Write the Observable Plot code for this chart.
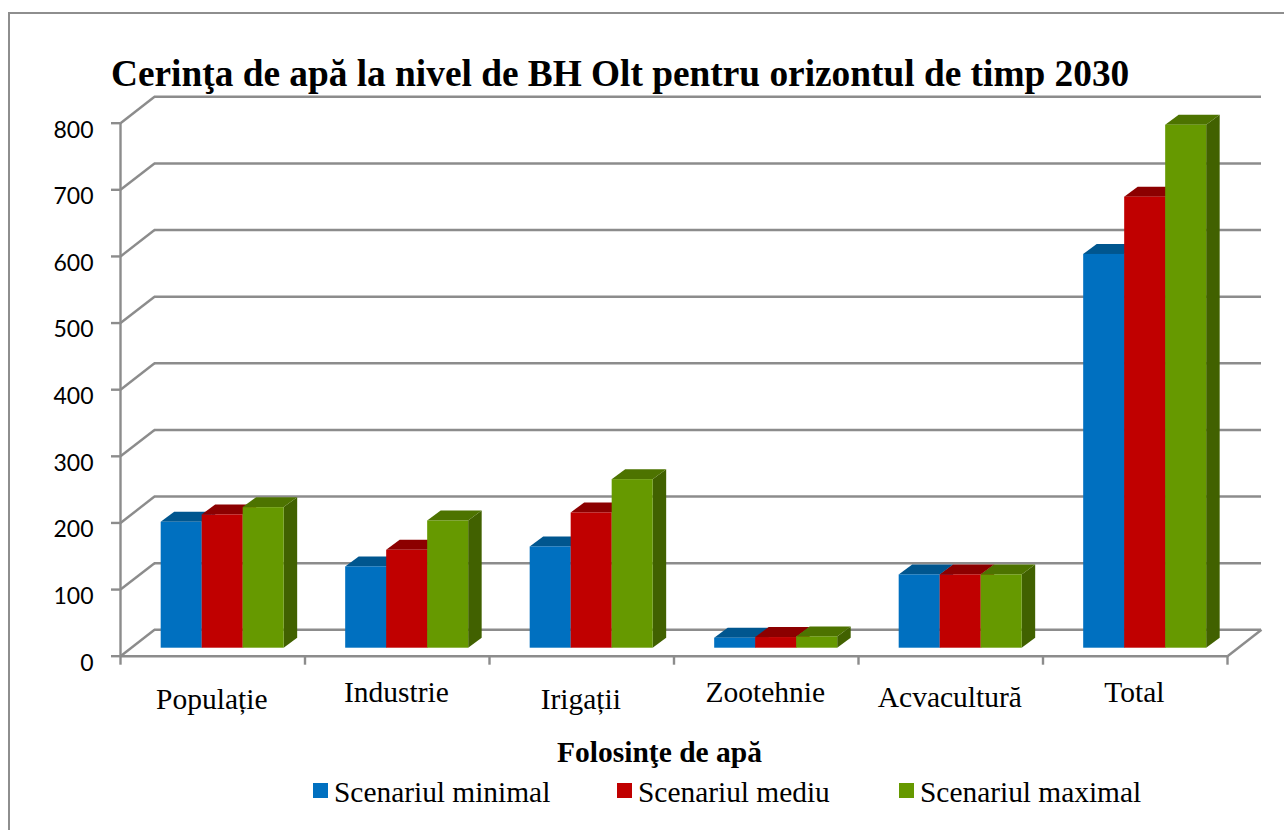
<!DOCTYPE html>
<html lang="ro">
<head>
<meta charset="utf-8">
<title>Cerinţa de apă la nivel de BH Olt</title>
<script src="https://cdn.jsdelivr.net/npm/d3@7"></script>
<script src="https://cdn.jsdelivr.net/npm/@observablehq/plot@0.6"></script>
<style>
  html, body { margin: 0; padding: 0; background: #fff; }
  #chart { position: relative; width: 1284px; height: 830px; overflow: hidden; font-family: "Liberation Serif", serif; color: #000; }
  #frame { position: absolute; left: 8px; top: 12px; right: -10px; bottom: -10px; border: 2px solid #8e8e8e; }
  #title { position: relative; height: 90px; }
  #title span { position: absolute; left: 111px; top: 48px; font-size: 37.35px; font-weight: bold; line-height: 52px; white-space: nowrap; }
  #plot { position: relative; height: 625px; }
  #plot svg { display: block; background: transparent; overflow: visible; }
  #xlabel { position: absolute; left: 0; top: 736px; width: 1319px; text-align: center; font-size: 29.5px; font-weight: bold; line-height: 32px; }
  .item { position: absolute; top: 775px; font-size: 29.4px; line-height: 34px; white-space: nowrap; }
  .item i { position: absolute; left: -21px; top: 8px; width: 15px; height: 15px; }
</style>
</head>
<body>
<div id="chart">
  <div id="frame"></div>
  <div id="title"><span>Cerinţa de apă la nivel de BH Olt pentru orizontul de timp 2030</span></div>
  <div id="plot"></div>
  <div id="xlabel">Folosinţe de apă</div>
  <div class="item" style="left:334px"><i style="background:#0070C0"></i>Scenariul minimal</div>
  <div class="item" style="left:638px"><i style="background:#C00000"></i>Scenariul mediu</div>
  <div class="item" style="left:920px"><i style="background:#669900"></i>Scenariul maximal</div>
</div>
<script>
const categories = ["Populație", "Industrie", "Irigații", "Zootehnie", "Acvacultură", "Total"];
const minimal = [189, 122, 152, 15, 110, 591];
const mediu = [200, 147, 203, 16, 110, 677];
const maximal = [211, 191, 253, 17, 110, 785];
const yTicks = [0, 100, 200, 300, 400, 500, 600, 700, 800];

const series = [
  { values: minimal, front: "#0070C0", top: "#00568F" },
  { values: mediu, front: "#C00000", top: "#8C0000" },
  { values: maximal, front: "#669900", top: "#4D7300", side: "#416100" }
];

// Oblique projection, in data units
const wallX = 34 / 184.5, wallY = 39.6;
const barX = 0.2205, barW = 0.2222, barBase = 12;
const depthX = 0.0732, depthY = 15;
const labelShift = [7, 0, 7, 0, 5, 0];
const gray = "#8c8c8c";
const lineW = 2.4;

const barMarks = series.flatMap((s, k) => {
  const rows = s.values.map((v, i) => {
    const x1 = i + barX + k * barW;
    return { x1, x2: x1 + barW, b: barBase, t: barBase + v, i };
  });
  const side = rows.flatMap(r => [
    { id: r.i, x: r.x2, y1: r.b, y2: r.t },
    { id: r.i, x: r.x2 + depthX, y1: r.b + depthY, y2: r.t + depthY }
  ]);
  const top = rows.flatMap(r => [
    { id: r.i, y: r.t, x1: r.x1, x2: r.x2 },
    { id: r.i, y: r.t + depthY, x1: r.x1 + depthX, x2: r.x2 + depthX }
  ]);
  return [
    Plot.areaY(side, { x: "x", y1: "y1", y2: "y2", z: "id", fill: s.side || s.top }),
    Plot.areaX(top, { y: "y", x1: "x1", x2: "x2", z: "id", fill: s.top }),
    Plot.rect(rows, { x1: "x1", x2: "x2", y1: "b", y2: "t", fill: s.front, inset: 0 })
  ];
});

const chart = Plot.plot({
  width: 1284,
  height: 625,
  marginLeft: 120,
  marginRight: 23,
  marginTop: 6.3,
  marginBottom: 59.3,
  style: { background: "transparent", overflow: "visible" },
  x: { domain: [0, 6 + wallX], axis: null },
  y: { domain: [0, 800 + wallY], axis: null },
  marks: [
    // back wall and side wall grid
    Plot.ruleY(yTicks, { y: d => d + wallY, x1: wallX, x2: 6 + wallX, stroke: gray, strokeWidth: lineW }),
    Plot.link(yTicks, { x1: 0, y1: d => d, x2: wallX, y2: d => d + wallY, stroke: gray, strokeWidth: lineW }),
    Plot.link([0], { x1: 6, y1: 0, x2: 6 + wallX, y2: wallY, stroke: gray, strokeWidth: lineW }),
    // front axes
    Plot.ruleY([0], { x1: 0, x2: 6, stroke: gray, strokeWidth: lineW }),
    Plot.ruleX([0], { y1: 0, y2: 800, stroke: gray, strokeWidth: lineW }),
    Plot.axisX({ ticks: d3.range(0, 7), tickSize: 9, text: null, stroke: gray, strokeWidth: lineW, strokeOpacity: 1, label: null }),
    Plot.axisY({ ticks: yTicks, tickSize: 9, text: null, stroke: gray, strokeWidth: lineW, strokeOpacity: 1, label: null }),
    Plot.axisY({ ticks: yTicks, tickSize: 0, tickPadding: 27, dy: 7, label: null, fontSize: 23, fontFamily: "Lato", fill: "#000" }),
    ...barMarks,
    // category labels
    ...categories.map((c, i) => Plot.text([c], {
      x: () => i + 0.495,
      frameAnchor: "bottom",
      dy: 46 + labelShift[i],
      fontSize: 29.5,
      fontFamily: "Liberation Serif",
      fill: "#000"
    }))
  ]
});
document.getElementById("plot").append(chart);
</script>
</body>
</html>
